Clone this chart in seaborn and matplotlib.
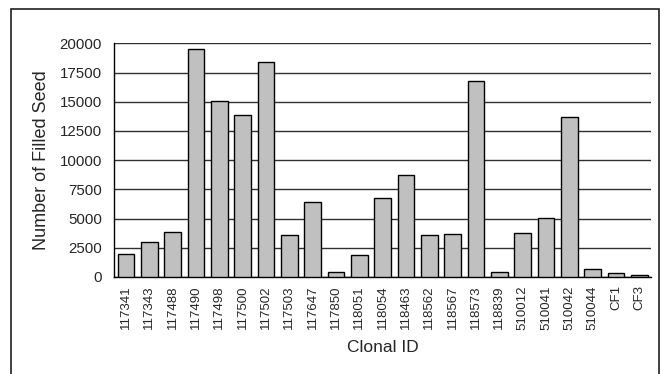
import matplotlib
matplotlib.use("Agg")
import matplotlib.pyplot as plt
import seaborn as sns
import pandas as pd
from matplotlib.patches import Rectangle

clonal_ids = ["117341", "117343", "117488", "117490", "117498", "117500", "117502",
              "117503", "117647", "117850", "118051", "118054", "118463", "118562",
              "118567", "118573", "118839", "510012", "510041", "510042", "510044",
              "CF1", "CF3"]
filled_seed = [1950, 3000, 3870, 19550, 15070, 13850, 18430,
               3560, 6440, 460, 1850, 6780, 8750, 3560,
               3650, 16780, 430, 3730, 5070, 13680, 710,
               370, 170]
y_ticks = [0, 2500, 5000, 7500, 10000, 12500, 15000, 17500, 20000]

df = pd.DataFrame({"Clonal ID": clonal_ids, "Filled": filled_seed})

sns.set_style("white")
plt.rcParams["font.family"] = ["Liberation Sans", "DejaVu Sans"]

fig = plt.figure(figsize=(6.65, 3.74), dpi=100)
ax = fig.add_axes([114.3 / 665, 1 - 277 / 374, (651 - 114.3) / 665, (277 - 43.3) / 374])

sns.barplot(data=df, x="Clonal ID", y="Filled", color="#C0C0C0", saturation=1,
            edgecolor="black", linewidth=1.0, width=0.72, ax=ax, zorder=3)

ax.set_ylim(0, 20000)
ax.set_xlim(-0.5, len(clonal_ids) - 0.5)
ax.set_yticks(y_ticks)
ax.set_yticklabels([str(v) for v in y_ticks], fontsize=10.8)
ax.tick_params(axis="x", labelrotation=90, labelsize=9.5, length=0, pad=6)
ax.tick_params(axis="y", length=0, pad=9)
ax.yaxis.grid(True, color="#303030", linewidth=1.0, zorder=0)
ax.set_axisbelow(True)
for s in ["top", "right"]:
    ax.spines[s].set_visible(False)
ax.spines["left"].set_color("black")
ax.spines["bottom"].set_color("black")
ax.spines["left"].set_linewidth(1.0)
ax.spines["bottom"].set_linewidth(1.0)

ax.set_ylabel("Number of Filled Seed", fontsize=13, labelpad=7)
ax.set_xlabel("Clonal ID", fontsize=12.5, labelpad=7)

fig.patches.append(Rectangle((11 / 665, -0.05), (659 - 11) / 665, 1.05 - 9 / 374,
                             transform=fig.transFigure, fill=False,
                             edgecolor="#202020", linewidth=1.2, zorder=0))

fig.savefig("out.png", dpi=100)
